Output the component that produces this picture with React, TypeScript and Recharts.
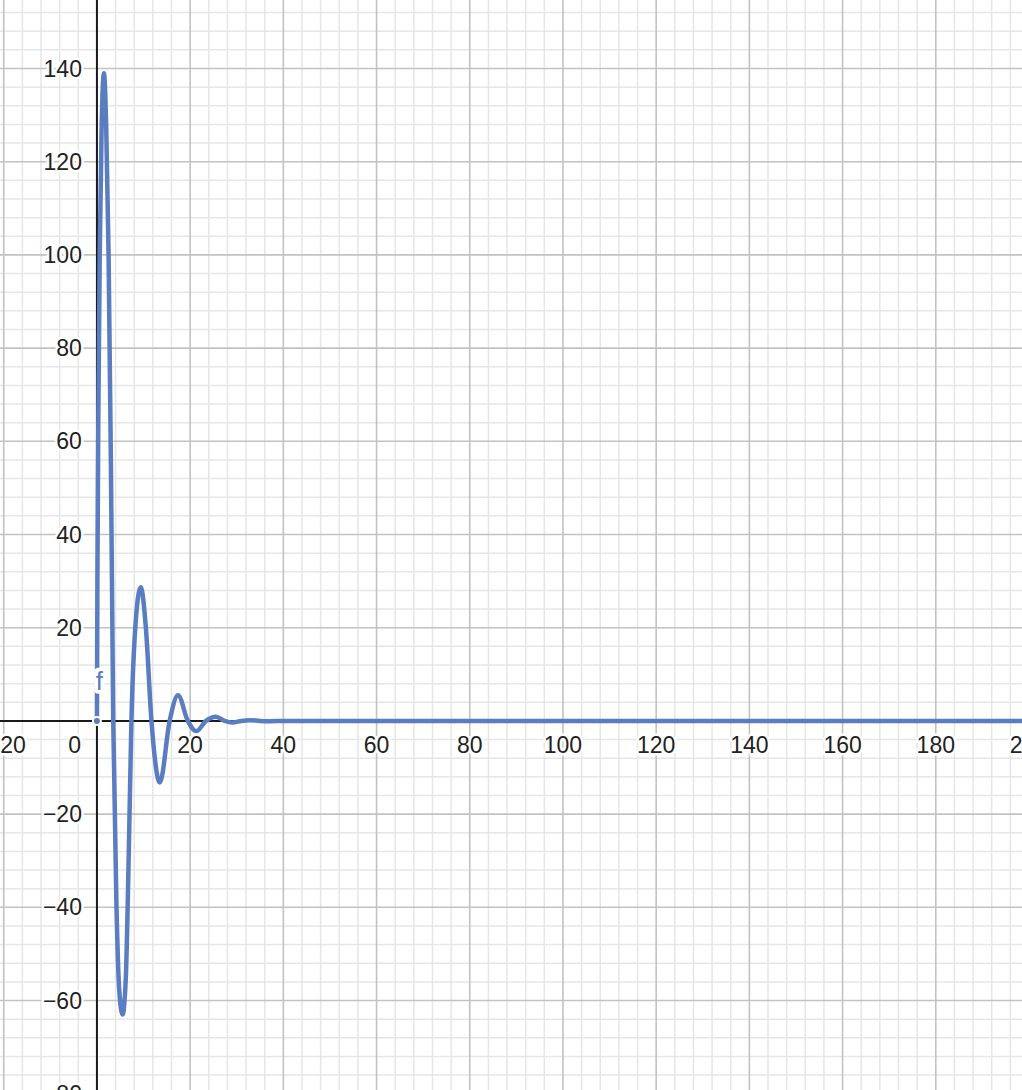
import React from "react";
import {
  LineChart,
  Line,
  XAxis,
  YAxis,
  ReferenceLine,
  ReferenceDot,
} from "recharts";

// Desmos-style plot of f(x): damped oscillation
const CURVE_X = [
  0, 0.1, 0.3, 0.6, 1.0, 1.5, 2.0, 2.5, 3.0, 3.5, 4.2, 4.8, 5.5, 6.2, 6.8, 7.4,
  8.3, 9.4, 10.5, 11.7, 13.5, 15.6, 17.4, 19.5, 21.3, 23.4, 25.5, 27.4, 29.1,
  31, 32.8, 35, 37, 40, 60, 100, 150, 200,
];
const CURVE_Y = [
  0, 30, 65, 100, 127, 139, 127, 100, 55, 0, -40, -58, -63, -55, -30, 0,
  21, 28.7, 20, 0, -13.2, 0, 5.5, 0, -2.2, 0, 0.9, 0, -0.35,
  0, 0.15, 0, -0.05, 0, 0, 0, 0, 0,
];

const X_TICKS = [-20, 0, 20, 40, 60, 80, 100, 120, 140, 160, 180, 200];
const Y_TICKS = [-80, -60, -40, -20, 20, 40, 60, 80, 100, 120, 140];
const Y_GRID = [-80, -60, -40, -20, 0, 20, 40, 60, 80, 100, 120, 140];

const X_DOMAIN = [-20.8, 198.5];
const Y_DOMAIN = [-79.2, 154.7];

const LABEL_NAME = "f";
const LABEL_AT = { x: 0.5, y: 8.6 };

const CURVE_COLOR = "#5a7cc0";
const MAJOR_GRID = "#c2c2c2";
const MINOR_GRID = "#e6e6e6";
const AXIS_COLOR = "#1a1a1a";
const TEXT_COLOR = "#222222";
const FONT = "'Liberation Sans', Arial, sans-serif";

const data = CURVE_X.map((x, i) => ({ x, y: CURVE_Y[i] }));

// minor grid: five parts per major step, one step past each end
function minorLines(major: number[]) {
  const step = (major[1] - major[0]) / 5;
  const out: number[] = [];
  const from = major[0] - 5 * step;
  const to = major[major.length - 1] + 5 * step;
  for (let i = 0; from + i * step <= to; i++) {
    const v = Math.round((from + i * step) * 1000) / 1000;
    if (!major.includes(v)) out.push(v);
  }
  return out;
}
const MINOR_X = minorLines(X_TICKS);
const MINOR_Y = minorLines(Y_GRID);

const fmt = (v: number) => (v < 0 ? `\u2212${Math.abs(v)}` : String(v));

const textStyle = {
  fontFamily: FONT,
  fontSize: 23,
  fill: TEXT_COLOR,
  stroke: "#ffffff",
  strokeWidth: 5,
  paintOrder: "stroke" as const,
  strokeLinejoin: "round" as const,
};

export default function App() {
  return (
    <div style={{ position: "absolute", left: 0, top: 0, width: 1022, height: 1090, background: "#fff" }}>
      <LineChart
        width={1022}
        height={1090}
        data={data}
        margin={{ top: 0, right: 0, bottom: 0, left: 0 }}
      >
        <XAxis
          dataKey="x"
          type="number"
          domain={X_DOMAIN}
          allowDataOverflow
          hide
        />
        <YAxis
          type="number"
          domain={Y_DOMAIN}
          allowDataOverflow
          hide
          width={0}
        />

        {MINOR_X.map((v) => (
          <ReferenceLine key={`mx${v}`} x={v} stroke={MINOR_GRID} strokeWidth={1.5} />
        ))}
        {MINOR_Y.map((v) => (
          <ReferenceLine key={`my${v}`} y={v} stroke={MINOR_GRID} strokeWidth={1.5} />
        ))}
        {X_TICKS.map((v) => (
          <ReferenceLine key={`gx${v}`} x={v} stroke={MAJOR_GRID} strokeWidth={1.6} />
        ))}
        {Y_GRID.map((v) => (
          <ReferenceLine key={`gy${v}`} y={v} stroke={MAJOR_GRID} strokeWidth={1.6} />
        ))}

        {X_TICKS.filter((v) => v !== 0).map((v) => (
          <ReferenceDot
            key={`xl${v}`}
            x={v}
            y={0}
            r={0}
            ifOverflow="visible"
            shape={(p: any) => (
              <text
                x={v < 0 ? p.cx + 22 : p.cx}
                y={p.cy + 32}
                textAnchor={v < 0 ? "end" : "middle"}
                style={textStyle}
              >
                {fmt(v)}
              </text>
            )}
          />
        ))}
        <ReferenceDot
          x={0}
          y={0}
          r={0}
          ifOverflow="visible"
          shape={(p: any) => (
            <text x={p.cx - 16} y={p.cy + 32} textAnchor="end" style={textStyle}>
              0
            </text>
          )}
        />
        {Y_TICKS.map((v) => (
          <ReferenceDot
            key={`yl${v}`}
            x={0}
            y={v}
            r={0}
            ifOverflow="visible"
            shape={(p: any) => (
              <text x={p.cx - 15} y={p.cy + 8} textAnchor="end" style={textStyle}>
                {fmt(v)}
              </text>
            )}
          />
        ))}

        <ReferenceLine x={0} stroke={AXIS_COLOR} strokeWidth={2} />
        <ReferenceLine y={0} stroke={AXIS_COLOR} strokeWidth={2} />

        <Line
          type="monotone"
          dataKey="y"
          stroke={CURVE_COLOR}
          strokeWidth={4.5}
          dot={false}
          isAnimationActive={false}
        />

        <ReferenceDot
          x={LABEL_AT.x}
          y={LABEL_AT.y}
          r={0}
          ifOverflow="visible"
          shape={(p: any) => (
            <g>
              <rect x={p.cx - 5} y={p.cy - 13} width={10} height={26} rx={4} fill="#ffffff" />
              <text
                x={p.cx}
                y={p.cy + 9}
                textAnchor="middle"
                style={{ fontFamily: FONT, fontSize: 26, fill: CURVE_COLOR }}
              >
                {LABEL_NAME}
              </text>
            </g>
          )}
        />
      </LineChart>
    </div>
  );
}
